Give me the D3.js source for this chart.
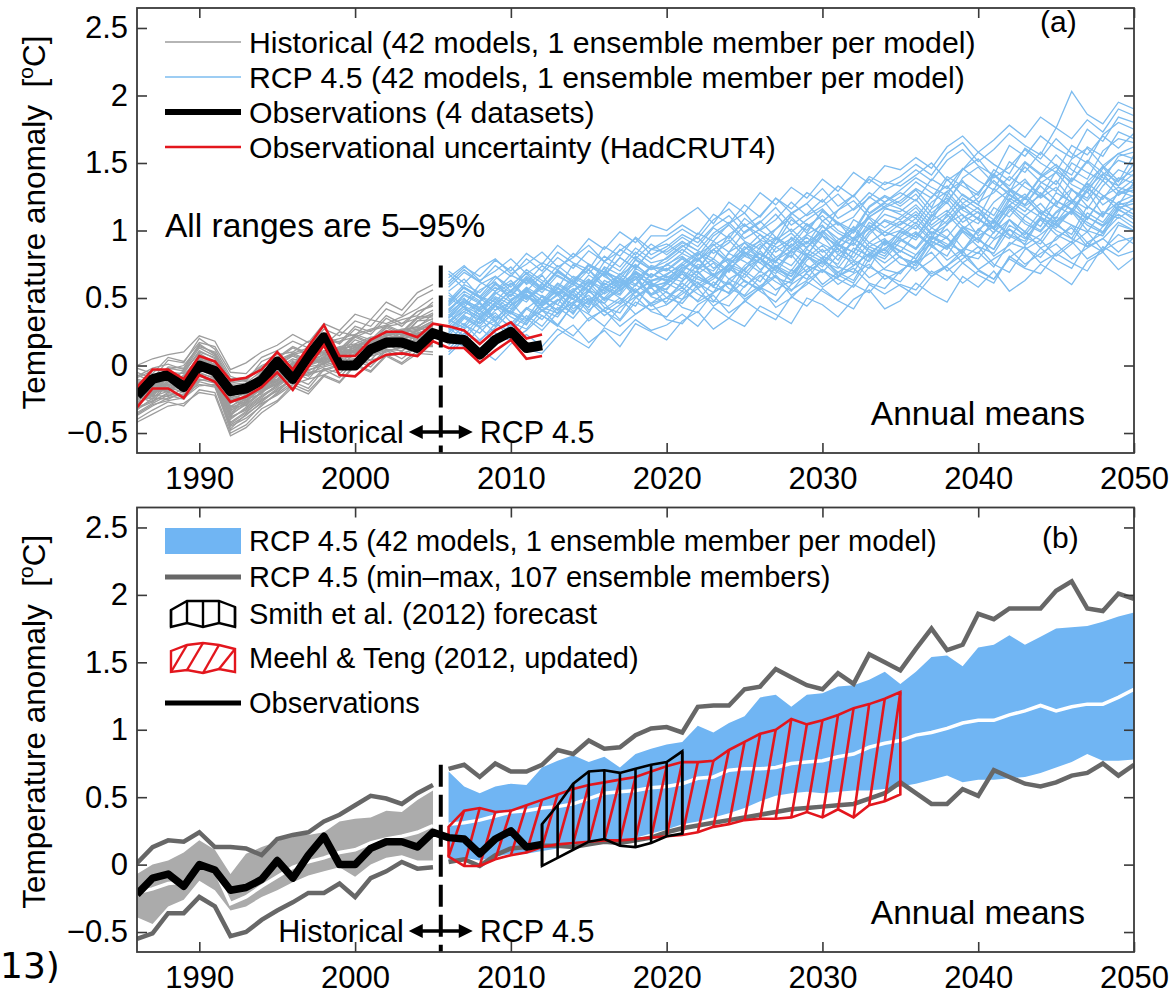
<!DOCTYPE html>
<html>
<head>
<meta charset="utf-8">
<script src="https://cdn.jsdelivr.net/npm/d3@7"></script>
<style>
  html, body { margin: 0; padding: 0; background: #fff; }
  svg { display: block; }
  text { font-family: "Liberation Sans", Arial, Helvetica, sans-serif; fill: #000; }
</style>
</head>
<body>
<svg id="chart" width="1175" height="995"></svg>
<script>
// ---------------------------------------------------------------------------
// Data (temperature anomalies in °C, relative to 1986–2005)
// ---------------------------------------------------------------------------
const histYears = d3.range(1986, 2006);      // 1986 … 2005
const rcpYears  = d3.range(2006, 2051);      // 2006 … 2050
const obsYears  = d3.range(1986, 2013);      // 1986 … 2012
const smithYears = d3.range(2012, 2022);     // 2012 … 2021
const meehlYears = d3.range(2006, 2036);     // 2006 … 2035

const yTickValues = [-0.5, 0, 0.5, 1, 1.5, 2, 2.5];
const xTickValues = [1990, 2000, 2010, 2020, 2030, 2040, 2050];

// Observed global mean temperature anomaly
const observations = [-0.22,-0.10,-0.07,-0.16,0.00,-0.04,-0.19,-0.17,-0.11,0.03,
  -0.10,0.07,0.21,0.00,0.00,0.12,0.17,0.17,0.13,0.24,0.20,0.19,0.08,0.19,0.25,0.13,0.15];
// HadCRUT4 5–95% uncertainty range
const obsUpper = [-0.16,-0.03,-0.03,-0.10,0.07,0.03,-0.11,-0.09,-0.03,0.10,
  -0.03,0.14,0.30,0.07,0.07,0.19,0.25,0.25,0.21,0.31,0.29,0.26,0.16,0.26,0.32,0.20,0.23];
const obsLower = [-0.31,-0.17,-0.17,-0.24,-0.07,-0.12,-0.27,-0.23,-0.16,-0.05,
  -0.18,-0.01,0.15,-0.07,-0.08,0.02,0.08,0.09,0.07,0.18,0.13,0.13,0.02,0.11,0.19,0.05,0.07];

// Historical runs, 42 models, 1986–2005 (hundredths of °C)
const histRuns = [
  [-25,-15,-10,-18,2,-1,-33,-28,-12,-5,1,6,2,12,15,13,22,25,20,31],
  [-18,-22,-9,-8,5,-7,-25,-30,-20,-11,3,-1,9,6,14,19,16,26,28,25],
  [-30,-20,-17,-10,-5,-2,-38,-20,-18,-13,-6,5,1,8,7,18,21,17,27,33],
  [-12,-16,-20,-9,8,0,-22,-26,-10,-4,-5,8,10,5,16,12,24,23,19,28],
  [-35,-28,-22,-25,-12,-15,-45,-39,-30,-20,-9,-14,-2,-6,5,1,12,8,14,15],
  [-8,-2,1,-3,15,9,-12,-10,-2,6,14,9,22,17,29,25,37,31,40,45],
  [-22,-25,-12,-16,-3,-8,-31,-22,-19,-6,-4,0,7,11,9,17,20,19,26,30],
  [-28,-14,-18,-11,3,-10,-35,-27,-14,-12,0,4,3,10,13,14,18,24,22,27],
  [-15,-19,-6,-14,-2,4,-24,-21,-17,-8,-1,3,8,7,12,20,17,22,25,32],
  [-40,-33,-27,-30,-18,-20,-50,-44,-32,-26,-14,-19,-7,-12,1,-4,8,2,11,10],
  [-19,-11,-15,-7,6,-3,-27,-19,-13,-10,2,0,6,13,10,15,23,20,23,26],
  [-24,-21,-11,-15,1,-6,-30,-25,-21,-7,-3,6,1,11,7,19,13,26,21,30],
  [-5,-10,4,2,20,12,-8,-12,3,8,10,18,15,25,22,34,31,36,42,50],
  [-27,-23,-19,-16,-6,-9,-40,-31,-22,-15,-5,-10,3,-1,9,4,16,10,22,18],
  [-20,-14,-16,-10,3,-6,-26,-24,-15,-11,-1,3,4,10,10,17,18,22,23,29],
  [-33,-24,-25,-19,-8,-12,-42,-34,-26,-17,-11,-6,-1,2,4,9,12,11,17,19],
  [-10,-13,-5,-6,11,5,-16,-17,-5,1,9,4,17,12,23,19,30,25,36,37],
  [-23,-18,-17,-14,-1,-2,-32,-26,-16,-10,-3,1,6,8,12,15,20,20,24,28],
  [-16,-8,-12,-4,9,2,-20,-15,-8,0,7,2,15,10,21,16,28,22,33,34],
  [-37,-30,-24,-21,-14,-16,-47,-36,-28,-22,-14,-10,-7,-2,1,4,7,9,13,16],
  [-13,-20,-8,-11,4,1,-23,-18,-11,-5,4,6,10,14,16,21,22,26,29,35],
  [-26,-17,-14,-17,-4,-4,-36,-29,-19,-14,-3,-8,6,1,12,7,18,13,24,24],
  [-21,-12,-7,-12,7,-5,-21,-20,-9,-3,1,7,11,13,14,20,24,27,28,38],
  [-31,-26,-21,-23,-10,-13,-44,-37,-27,-18,-9,-7,-3,1,3,7,10,14,14,18],
  [-2,-6,6,3,17,14,-5,-6,6,11,18,13,27,22,33,29,42,37,50,56],
  [-17,-23,-11,-9,2,-8,-28,-22,-17,-8,0,5,4,11,15,16,21,21,26,31],
  [-29,-19,-16,-20,-7,-11,-39,-32,-23,-16,-7,-4,2,5,7,10,13,17,19,21],
  [-14,-9,-10,-5,10,6,-18,-14,-7,-1,8,3,16,11,22,17,29,24,35,36],
  [-23,-27,-13,-13,-2,-3,-34,-24,-18,-12,-4,1,5,9,11,15,17,22,24,27],
  [-11,-15,-2,-4,13,7,-14,-13,-4,3,8,11,16,18,21,26,29,31,35,41],
  [-36,-29,-26,-24,-15,-14,-48,-41,-29,-21,-12,-17,-3,-9,4,-1,11,5,14,14],
  [-20,-16,-9,-13,5,-1,-25,-23,-14,-7,0,3,8,10,13,18,20,24,26,31],
  [-25,-20,-18,-15,-3,-7,-37,-28,-20,-13,-5,-1,1,6,8,13,16,17,22,25],
  [-9,-4,-3,0,14,10,-10,-9,0,5,13,8,21,16,27,23,35,29,40,44],
  [-32,-27,-20,-22,-11,-10,-43,-35,-25,-19,-10,-5,-4,0,5,8,11,13,15,20],
  [-18,-13,-15,-8,4,3,-22,-19,-12,-6,2,6,9,12,15,19,22,25,27,33],
  [-42,-36,-30,-28,-20,-22,-52,-46,-35,-27,-16,-21,-8,-13,0,-5,7,1,9,8],
  [-7,-12,-1,-2,16,8,-13,-11,-1,4,9,13,17,20,23,27,30,34,37,47],
  [-24,-15,-19,-12,0,-8,-31,-27,-17,-11,-4,0,4,7,10,14,18,19,23,26],
  [-15,-21,-8,-10,7,0,-19,-16,-10,-2,5,0,14,8,19,15,26,20,33,39],
  [-28,-22,-23,-17,-5,-10,-38,-33,-24,-14,-8,-3,0,4,5,10,13,16,18,23],
  [0,5,8,10,22,18,-3,2,10,15,23,17,31,26,38,34,47,41,54,60]
];

// RCP4.5 runs, 42 models, 2006–2050 (hundredths of °C)
const rcpRuns = [
  [10,21,6,15,24,12,9,22,30,17,26,14,31,25,19, 33,40,27,35,29,44,38,31,50,45,36,49,56,42,48, 61,53,47,66,58,70,55,63,75,68,60,77,84,71,80],
  [20,14,28,33,19,26,37,30,22,35,41,29,38,46,34, 31,45,52,39,47,58,43,50,62,55,48,60,54,67,59, 52,66,73,61,70,64,79,72,68,83,76,70,88,81,85],
  [15,27,35,24,18,33,41,30,45,38,29,43,51,40,36, 49,57,44,52,63,55,47,60,68,58,66,72,61,57,70, 78,66,74,85,71,64,80,88,76,83,92,79,86,97,90],
  [25,31,19,28,40,35,26,39,47,33,42,50,38,46,55, 43,39,54,61,49,57,66,52,60,71,64,58,73,67,62, 76,84,70,79,88,75,69,86,93,81,90,99,85,92,95],
  [30,22,36,44,32,27,41,49,38,55,46,34,50,58,45, 53,62,48,44,59,67,56,63,74,60,69,77,65,72,81, 70,78,89,76,84,73,91,87,80,95,102,88,94,106,100],
  [22,35,28,18,31,43,37,29,46,52,40,48,57,44,50, 61,53,47,64,58,70,62,55,69,77,66,74,83,71,68, 82,90,78,86,95,81,89,99,87,93,104,91,98,110,102],
  [35,44,31,39,27,42,51,38,47,56,43,39,55,62,50, 46,60,68,57,52,66,74,63,71,80,67,61,79,86,75, 72,88,95,82,79,93,101,89,97,106,94,88,103,112,105],
  [28,19,33,45,36,30,48,41,53,39,58,50,44,61,54, 49,66,59,72,63,56,74,68,81,70,65,84,77,91,80, 74,92,86,99,88,83,101,94,108,97,91,110,103,116,108],
  [40,52,46,33,48,57,43,39,55,62,49,58,66,51,47, 63,70,58,54,72,79,65,61,78,86,73,69,88,94,80, 76,93,101,87,83,99,108,95,90,106,114,100,96,115,110],
  [18,30,24,37,29,42,34,48,55,41,50,46,60,52,57, 68,61,54,72,65,79,70,63,81,75,90,78,72,92,84, 98,88,81,100,93,107,96,90,109,102,115,104,98,118,112],
  [33,40,47,35,44,53,41,36,51,59,48,56,64,52,60, 70,58,66,75,62,57,73,82,69,77,87,74,83,92,85, 79,95,88,102,93,86,104,97,110,100,94,113,106,121,115],
  [45,58,50,41,53,47,60,55,49,63,57,52,66,61,56, 70,64,59,74,68,80,71,66,83,77,72,87,81,93,88, 82,96,90,85,101,94,108,99,93,110,104,99,114,109,117],
  [26,37,31,44,39,33,47,55,42,50,46,59,66,53,61, 68,57,64,75,70,62,78,85,74,69,82,91,80,87,93, 86,99,94,83,101,108,97,92,110,104,115,106,99,117,120],
  [38,30,43,51,45,57,48,41,56,64,53,60,69,58,62, 71,79,66,60,74,83,77,90,81,73,88,95,84,79,92, 99,89,105,112,96,103,118,107,100,114,123,110,104,119,122],
  [31,42,36,29,45,52,40,48,57,46,54,63,51,59,61, 55,68,76,64,71,85,73,66,80,89,78,94,86,81,95, 104,92,87,101,110,98,116,105,99,113,121,108,126,115,124],
  [50,43,56,62,48,55,67,52,59,71,57,64,54,68,62, 73,69,58,76,84,71,80,74,88,96,82,77,91,99,94, 87,102,95,109,117,101,94,111,120,107,115,129,112,121,126],
  [24,36,29,41,47,34,52,45,39,56,50,62,54,68,63, 75,66,59,72,81,90,77,70,86,79,93,101,88,83,97, 106,94,112,100,91,108,119,111,103,122,116,109,125,132,128],
  [36,47,41,32,49,56,44,53,61,48,57,66,55,63,64, 58,71,79,70,84,76,68,85,92,81,75,94,102,89,99, 93,107,115,103,98,117,110,124,113,106,121,133,119,127,130],
  [42,50,37,46,55,49,61,53,45,60,68,56,64,73,65, 72,80,67,74,88,79,71,86,95,84,90,103,91,85,100, 109,97,104,118,108,101,114,125,112,120,131,118,111,128,132],
  [29,40,34,47,38,52,45,58,49,43,61,55,68,59,66, 62,75,70,83,77,69,87,94,82,96,89,84,99,107,102, 95,110,121,106,114,102,119,127,115,109,130,122,137,126,134],
  [55,64,51,47,60,68,57,53,66,61,72,58,69,63,67, 76,84,72,79,70,88,95,83,91,99,86,80,97,108,104, 112,98,107,120,113,105,124,117,110,128,121,135,126,119,136],
  [34,28,41,49,39,55,46,60,52,45,63,57,70,62,68, 74,83,77,69,86,92,80,88,97,90,84,101,109,96,105, 114,102,110,124,116,108,127,119,133,122,115,131,142,129,138],
  [47,58,51,44,56,63,54,67,60,55,70,64,59,73,70, 79,71,86,93,81,76,90,98,87,103,94,89,106,99,107, 101,116,124,111,105,121,130,118,126,137,123,116,133,145,140],
  [27,38,46,33,41,52,44,57,49,62,55,68,60,74,71, 80,73,66,84,91,79,95,87,81,99,106,93,101,112,108, 117,104,113,127,119,111,129,138,124,132,120,136,147,133,142],
  [39,48,43,54,47,58,51,45,62,56,69,61,74,66,72, 64,78,86,75,82,93,88,80,97,104,91,99,110,102,110, 119,107,126,115,109,131,122,136,127,118,139,132,148,137,145],
  [60,71,62,55,67,61,74,66,60,75,69,64,78,71,74, 83,77,89,96,84,79,93,101,90,107,98,92,110,117,112, 105,121,129,116,124,137,126,119,135,143,130,124,141,152,148],
  [32,44,38,50,42,56,48,61,54,67,59,53,72,65,75, 69,82,90,78,86,97,84,92,105,96,89,108,101,116,114, 123,110,129,137,121,128,140,132,125,144,136,151,139,133,150],
  [44,55,48,60,52,65,57,71,62,56,73,67,81,72,77, 86,78,92,84,99,107,95,88,103,111,100,94,112,120,116, 109,125,133,120,128,141,130,123,139,147,134,128,146,157,153],
  [52,45,60,66,55,69,61,74,65,59,77,70,84,76,79, 88,95,83,91,104,97,90,108,100,114,105,98,117,125,118, 127,113,122,136,128,142,131,124,140,149,137,152,143,136,156],
  [37,49,42,55,63,50,58,70,62,75,66,59,79,71,80, 89,81,96,104,92,86,101,110,98,115,106,100,118,126,120, 130,117,138,126,119,141,133,147,136,129,150,143,137,155,158],
  [65,74,63,70,79,68,76,71,83,75,69,86,79,90,82, 91,85,98,106,94,101,112,99,108,116,104,110,125,117,122, 131,124,140,133,126,145,137,151,142,134,153,161,148,157,162],
  [41,53,47,58,51,64,56,70,61,74,67,80,72,86,84, 92,85,79,97,105,93,101,113,104,97,115,122,110,118,125, 136,128,120,139,147,135,128,150,141,156,145,138,159,168,165],
  [48,60,54,66,58,71,63,57,75,68,81,73,87,79,86, 95,88,102,94,109,100,93,112,120,107,115,126,113,121,128, 122,138,131,146,137,130,151,143,158,148,141,162,155,173,168],
  [70,61,72,79,68,75,84,73,80,89,77,85,94,82,88, 97,91,103,111,98,106,117,104,112,123,109,116,128,121,130, 139,132,126,145,153,139,147,160,150,143,163,156,170,161,172],
  [35,47,40,53,61,49,57,69,62,75,66,80,72,86,90, 83,98,92,105,113,100,108,121,111,118,127,115,124,136,133, 141,150,137,145,158,149,142,161,153,168,157,150,171,180,175],
  [58,69,62,74,66,79,70,84,76,71,88,81,95,86,93, 101,94,108,116,103,111,124,113,120,131,118,126,138,130,136, 145,137,152,160,148,141,163,155,170,161,154,175,166,184,180],
  [46,58,51,64,73,60,68,80,72,85,77,90,82,96,96, 104,97,112,105,119,110,124,116,128,121,133,125,140,134,140, 149,141,157,165,151,160,172,163,156,176,168,182,173,190,185],
  [62,73,66,78,70,83,75,89,80,94,86,99,91,104,100, 109,117,105,121,113,128,119,132,124,138,129,143,135,148,145, 154,146,162,170,158,167,178,169,184,176,203,186,179,195,190],
  [54,43,35,47,39,31,44,52,40,48,37,45,55,46,50, 58,47,54,62,51,59,67,56,63,71,60,68,75,64,70, 78,68,74,82,71,79,86,75,83,90,79,87,94,84,95],
  [12,24,18,31,25,37,29,43,35,49,40,33,47,41,45, 55,48,62,53,68,58,52,71,64,79,69,63,83,76,85, 79,96,88,103,93,86,108,99,114,104,97,118,110,129,125],
  [68,57,50,61,54,66,58,52,64,71,60,67,75,65,75, 81,72,86,77,91,82,76,95,87,100,90,84,104,96,100, 95,112,105,118,108,102,122,114,128,118,112,131,123,139,135],
  [8,19,12,4,16,23,14,27,20,13,28,22,34,26,30, 38,29,43,35,48,40,34,51,44,57,48,42,60,53,60, 56,70,63,76,67,61,81,73,87,78,72,91,84,104,100]
];

// Panel (b): historical 5–95% range, median and min–max (1986–2005)
const histBandUpper = [-0.07,0.00,0.03,0.09,0.18,0.11,-0.07,0.08,0.13,0.17,0.23,0.22,0.24,0.32,0.34,0.35,0.40,0.39,0.48,0.55];
const histBandLower = [-0.39,-0.44,-0.31,-0.26,-0.12,-0.19,-0.34,-0.31,-0.24,-0.19,-0.13,-0.08,-0.05,-0.02,-0.09,0.00,0.05,0.07,0.03,0.03];
const histMedian    = [-0.21,-0.18,-0.14,-0.13,0.00,-0.04,-0.29,-0.24,-0.16,-0.09,-0.02,0.02,0.05,0.09,0.11,0.16,0.19,0.21,0.24,0.29];
const histMax = [0.01,0.13,0.18,0.17,0.24,0.13,0.13,0.12,0.07,0.19,0.22,0.24,0.32,0.37,0.44,0.51,0.49,0.45,0.53,0.59];
const histMin = [-0.55,-0.51,-0.36,-0.36,-0.24,-0.31,-0.53,-0.50,-0.41,-0.34,-0.28,-0.21,-0.21,-0.14,-0.24,-0.10,-0.05,0.02,-0.03,-0.02];

// Panel (b): RCP4.5 5–95% range, median and min–max (2006–2050)
const rcpBandUpper = [0.69,0.58,0.53,0.58,0.60,0.59,0.72,0.77,0.81,0.76,0.80,0.72,0.82,0.86,0.89,
  0.91,1.03,0.98,1.05,1.10,1.24,1.26,1.17,1.26,1.27,1.32,1.33,1.37,1.43,1.34,
  1.43,1.54,1.55,1.47,1.61,1.63,1.70,1.63,1.69,1.75,1.76,1.77,1.80,1.84,1.87];
const rcpBandLower = [0.03,0.05,0.03,0.06,0.08,0.08,0.10,0.12,0.14,0.15,0.17,0.18,0.20,0.23,0.26,
  0.30,0.32,0.35,0.38,0.42,0.47,0.51,0.53,0.54,0.53,0.54,0.55,0.55,0.56,0.58,
  0.60,0.63,0.66,0.61,0.63,0.63,0.64,0.65,0.68,0.72,0.76,0.82,0.77,0.77,0.78];
const rcpMedian = [0.30,0.31,0.33,0.36,0.39,0.40,0.42,0.43,0.45,0.49,0.53,0.54,0.55,0.57,0.58,
  0.60,0.64,0.65,0.70,0.71,0.71,0.72,0.75,0.76,0.77,0.80,0.82,0.87,0.90,0.92,
  0.96,0.98,1.01,1.05,1.07,1.07,1.11,1.14,1.18,1.14,1.17,1.19,1.19,1.24,1.30];
const rcpMax = [0.71,0.74,0.65,0.75,0.69,0.69,0.74,0.85,0.82,0.92,0.86,0.87,0.96,1.01,1.02,
  0.98,1.17,1.18,1.18,1.30,1.32,1.45,1.39,1.33,1.30,1.42,1.34,1.56,1.50,1.44,
  1.60,1.75,1.59,1.63,1.86,1.82,1.90,1.90,1.90,2.03,2.10,1.90,1.88,2.01,1.97];
const rcpMin = [0.02,0.04,-0.01,0.07,0.12,0.13,0.14,0.14,0.13,0.15,0.17,0.16,0.18,0.20,0.24,
  0.27,0.29,0.31,0.33,0.35,0.37,0.39,0.41,0.42,0.43,0.44,0.45,0.49,0.53,0.61,
  0.53,0.45,0.45,0.56,0.51,0.70,0.65,0.60,0.58,0.61,0.66,0.68,0.75,0.66,0.74];

// Smith et al. (2012) forecast range, 2012–2021
const smithUpper = [0.30,0.44,0.60,0.69,0.70,0.68,0.71,0.74,0.76,0.84];
const smithLower = [-0.01,0.05,0.11,0.17,0.19,0.14,0.13,0.16,0.21,0.23];

// Meehl & Teng (2012, updated) range, 2006–2035
const meehlUpper = [0.28,0.40,0.42,0.39,0.40,0.44,0.48,0.52,0.56,0.59,0.61,0.63,0.65,0.69,0.73,
  0.76,0.76,0.77,0.85,0.91,0.97,1.00,1.08,1.04,1.07,1.11,1.16,1.19,1.23,1.28];
const meehlLower = [0.06,-0.01,-0.01,0.04,0.07,0.09,0.13,0.15,0.16,0.17,0.18,0.18,0.19,0.20,0.21,
  0.22,0.24,0.28,0.30,0.33,0.34,0.34,0.35,0.39,0.35,0.41,0.35,0.44,0.47,0.52];

const legendA = [
  "Historical (42 models, 1 ensemble member per model)",
  "RCP 4.5 (42 models, 1 ensemble member per model)",
  "Observations (4 datasets)",
  "Observational uncertainty (HadCRUT4)"
];
const legendB = [
  "RCP 4.5 (42 models, 1 ensemble member per model)",
  "RCP 4.5 (min\u2013max, 107 ensemble members)",
  "Smith et al. (2012) forecast",
  "Meehl & Teng (2012, updated)",
  "Observations"
];

// ---------------------------------------------------------------------------
// Styling
// ---------------------------------------------------------------------------
const C = {
  axis: "#3a3a3a",
  histLine: "#9d9d9d",
  rcpLine: "#7dbcef",
  red: "#e3161d",
  blueFill: "#70b5f3",
  grayFill: "#ababab",
  minmax: "#676767"
};
const FONT_TICK = 31;

const svg = d3.select("#chart");
const x = d3.scaleLinear().domain([1986, 2050]).range([137, 1134]);
const yDomain = [-0.648, 2.648];
const panels = [
  { name: "a", top: 8, bottom: 453 },
  { name: "b", top: 507.5, bottom: 952 }
];
panels.forEach(p => { p.y = d3.scaleLinear().domain(yDomain).range([p.bottom, p.top]); });

const fmtY = d => d < 0 ? "\u2212" + Math.abs(d) : String(d);

function lineGen(years, y, scale = 1) {
  return d3.line().x((d, i) => x(years[i])).y(d => y(d * scale));
}
function areaGen(years, lower, y) {
  return d3.area().x((d, i) => x(years[i])).y0((d, i) => y(lower[i])).y1(d => y(d));
}

// Clip paths for plot areas
const defs = svg.append("defs");
panels.forEach(p => {
  defs.append("clipPath").attr("id", "clip-" + p.name)
    .append("rect").attr("x", x.range()[0]).attr("y", p.top)
    .attr("width", x.range()[1] - x.range()[0]).attr("height", p.bottom - p.top);
});

function drawAxes(p) {
  const g = svg.append("g");
  const style = sel => {
    sel.select(".domain").remove();
    sel.selectAll(".tick line").attr("stroke", C.axis).attr("stroke-width", 1.6);
    sel.selectAll(".tick text").attr("font-size", FONT_TICK).attr("fill", "#000")
      .style("font-family", "'Liberation Sans', Arial, sans-serif");
  };
  g.append("g").attr("transform", `translate(${x.range()[0]},0)`)
    .call(d3.axisLeft(p.y).tickValues(yTickValues).tickSize(-10).tickPadding(9).tickFormat(fmtY))
    .call(style);
  g.append("g").attr("transform", `translate(${x.range()[1]},0)`)
    .call(d3.axisRight(p.y).tickValues(yTickValues).tickSize(-10).tickFormat(""))
    .call(style);
  g.append("g").attr("transform", `translate(0,${p.top})`)
    .call(d3.axisTop(x).tickValues(xTickValues).tickSize(-10).tickFormat(""))
    .call(style);
  g.append("g").attr("transform", `translate(0,${p.bottom})`)
    .call(d3.axisBottom(x).tickValues(xTickValues).tickSize(-10).tickPadding(14).tickFormat(d3.format("d")))
    .call(style);
  g.append("rect").attr("x", x.range()[0]).attr("y", p.top)
    .attr("width", x.range()[1] - x.range()[0]).attr("height", p.bottom - p.top)
    .attr("fill", "none").attr("stroke", C.axis).attr("stroke-width", 1.8);

  // y-axis title
  const cy = (p.top + p.bottom) / 2 - 8;
  const t = svg.append("text").attr("transform", `translate(45,${cy}) rotate(-90)`)
    .attr("text-anchor", "middle").attr("font-size", 31.5);
  t.append("tspan").text("Temperature anomaly\u00a0\u00a0[");
  t.append("tspan").attr("font-size", 21).attr("dy", -12).text("o");
  t.append("tspan").attr("dy", 12).text("C]");
}

function drawDivider(p) {
  const g = svg.append("g");
  g.append("line")
    .attr("x1", x(2005.5)).attr("x2", x(2005.5))
    .attr("y1", p.y(0.74)).attr("y2", p.bottom)
    .attr("stroke", "#000").attr("stroke-width", 4).attr("stroke-dasharray", "22,8");
  // "Historical <-> RCP 4.5"
  const base = p.bottom - 10, ay = base - 11, cx = x(2005.5);
  g.append("text").attr("x", cx - 37).attr("y", base).attr("text-anchor", "end")
    .attr("font-size", 30.5).text("Historical");
  g.append("text").attr("x", cx + 39).attr("y", base).attr("text-anchor", "start")
    .attr("font-size", 30.5).text("RCP 4.5");
  g.append("line").attr("x1", cx - 22).attr("x2", cx + 22).attr("y1", ay).attr("y2", ay)
    .attr("stroke", "#000").attr("stroke-width", 3.5);
  [-1, 1].forEach(s => {
    const tip = cx + s * 32;
    g.append("path")
      .attr("d", `M${tip},${ay} L${tip - s * 14},${ay - 7} L${tip - s * 14},${ay + 7} Z`)
      .attr("fill", "#000");
  });
  g.append("text").attr("x", 1085).attr("y", p.bottom - 28).attr("text-anchor", "end")
    .attr("font-size", 33.5).text("Annual means");
}

// ---------------------------------------------------------------------------
// Panel (a)
// ---------------------------------------------------------------------------
(function () {
  const p = panels[0], y = p.y;
  const plot = svg.append("g").attr("clip-path", "url(#clip-a)");
  plot.selectAll("path.hist").data(histRuns).join("path")
    .attr("d", lineGen(histYears, y, 0.01))
    .attr("fill", "none").attr("stroke", C.histLine).attr("stroke-width", 1.3);
  plot.selectAll("path.rcp").data(rcpRuns).join("path")
    .attr("d", lineGen(rcpYears, y, 0.01))
    .attr("fill", "none").attr("stroke", C.rcpLine).attr("stroke-width", 1.3);
  plot.append("path").attr("d", lineGen(obsYears, y)(observations))
    .attr("fill", "none").attr("stroke", "#000").attr("stroke-width", 10)
    .attr("stroke-linejoin", "round");
  [obsUpper, obsLower].forEach(arr => {
    plot.append("path").attr("d", lineGen(obsYears, y)(arr))
      .attr("fill", "none").attr("stroke", C.red).attr("stroke-width", 2.6);
  });

  drawDivider(p);
  drawAxes(p);

  // legend
  const lg = svg.append("g");
  const rows = [42, 77, 112, 147];
  const styles = [
    { stroke: C.histLine, w: 1.5 },
    { stroke: C.rcpLine, w: 1.5 },
    { stroke: "#000", w: 6 },
    { stroke: C.red, w: 2.6 }
  ];
  legendA.forEach((label, i) => {
    lg.append("line").attr("x1", 165).attr("x2", 241).attr("y1", rows[i]).attr("y2", rows[i])
      .attr("stroke", styles[i].stroke).attr("stroke-width", styles[i].w);
    lg.append("text").attr("x", 249).attr("y", rows[i]).attr("dy", "0.36em")
      .attr("font-size", 30.2).text(label);
  });
  svg.append("text").attr("x", 165).attr("y", 237).attr("font-size", 33.5)
    .text("All ranges are 5\u201395%");
  svg.append("text").attr("x", 1040).attr("y", 32).attr("font-size", 30).text("(a)");
})();

// ---------------------------------------------------------------------------
// Panel (b)
// ---------------------------------------------------------------------------
(function () {
  const p = panels[1], y = p.y;
  const plot = svg.append("g").attr("clip-path", "url(#clip-b)");

  plot.append("path").attr("d", areaGen(histYears, histBandLower, y)(histBandUpper))
    .attr("fill", C.grayFill);
  plot.append("path").attr("d", areaGen(rcpYears, rcpBandLower, y)(rcpBandUpper))
    .attr("fill", C.blueFill);
  [[histYears, histMedian], [rcpYears, rcpMedian]].forEach(([yrs, arr]) => {
    plot.append("path").attr("d", lineGen(yrs, y)(arr))
      .attr("fill", "none").attr("stroke", "#fff").attr("stroke-width", 3.5);
  });
  [[histYears, histMax], [histYears, histMin], [rcpYears, rcpMax], [rcpYears, rcpMin]]
    .forEach(([yrs, arr]) => {
      plot.append("path").attr("d", lineGen(yrs, y)(arr))
        .attr("fill", "none").attr("stroke", C.minmax).attr("stroke-width", 4.5);
    });

  // Meehl & Teng: outlined range with diagonal hatching
  const mg = plot.append("g").attr("stroke", C.red).attr("fill", "none").attr("stroke-width", 2.6);
  const mPoly = meehlUpper.map((v, i) => [x(meehlYears[i]), y(v)])
    .concat(meehlLower.map((v, i) => [x(meehlYears[i]), y(v)]).reverse());
  mg.append("path").attr("d", "M" + mPoly.join("L") + "Z");
  mg.selectAll("line").data(meehlYears.slice(0, -1)).join("line")
    .attr("x1", (d, i) => x(meehlYears[i])).attr("y1", (d, i) => y(meehlLower[i]))
    .attr("x2", (d, i) => x(meehlYears[i + 1])).attr("y2", (d, i) => y(meehlUpper[i + 1]));

  // Smith et al.: outlined range with vertical hatching
  const sg = plot.append("g").attr("stroke", "#000").attr("fill", "none").attr("stroke-width", 2.6);
  const sPoly = smithUpper.map((v, i) => [x(smithYears[i]), y(v)])
    .concat(smithLower.map((v, i) => [x(smithYears[i]), y(v)]).reverse());
  sg.append("path").attr("d", "M" + sPoly.join("L") + "Z");
  sg.selectAll("line").data(smithYears).join("line")
    .attr("x1", d => x(d)).attr("x2", d => x(d))
    .attr("y1", (d, i) => y(smithLower[i])).attr("y2", (d, i) => y(smithUpper[i]));

  plot.append("path").attr("d", lineGen(obsYears, y)(observations))
    .attr("fill", "none").attr("stroke", "#000").attr("stroke-width", 7.5)
    .attr("stroke-linejoin", "round");

  drawDivider(p);
  drawAxes(p);

  // legend
  const lg = svg.append("g");
  const rows = [541, 577, 614, 658, 703];
  lg.append("rect").attr("x", 165).attr("y", 528).attr("width", 76).attr("height", 26)
    .attr("fill", C.blueFill);
  lg.append("line").attr("x1", 165).attr("x2", 241).attr("y1", rows[1]).attr("y2", rows[1])
    .attr("stroke", C.minmax).attr("stroke-width", 5);
  // small hatched glyphs
  const gx = [171, 187, 203, 219, 235];
  const sTop = [610, 601, 601, 601, 607], sBot = [627, 623, 627, 623, 627];
  const s = lg.append("g").attr("stroke", "#000").attr("stroke-width", 2.4).attr("fill", "none");
  s.append("path").attr("d", "M" + gx.map((v, i) => [v, sTop[i]]).concat(gx.map((v, i) => [v, sBot[i]]).reverse()).join("L") + "Z");
  gx.forEach((v, i) => s.append("line").attr("x1", v).attr("x2", v).attr("y1", sTop[i]).attr("y2", sBot[i]));
  const mTop = [651, 645, 643, 645, 649], mBot = [672, 670, 673, 669, 672];
  const m = lg.append("g").attr("stroke", C.red).attr("stroke-width", 2.4).attr("fill", "none");
  m.append("path").attr("d", "M" + gx.map((v, i) => [v, mTop[i]]).concat(gx.map((v, i) => [v, mBot[i]]).reverse()).join("L") + "Z");
  gx.slice(0, -1).forEach((v, i) => m.append("line").attr("x1", v).attr("y1", mBot[i]).attr("x2", gx[i + 1]).attr("y2", mTop[i + 1]));
  lg.append("line").attr("x1", 165).attr("x2", 241).attr("y1", rows[4]).attr("y2", rows[4])
    .attr("stroke", "#000").attr("stroke-width", 5);
  legendB.forEach((label, i) => {
    lg.append("text").attr("x", 249).attr("y", rows[i]).attr("dy", "0.36em")
      .attr("font-size", 29).text(label);
  });
  svg.append("text").attr("x", 1042).attr("y", 548).attr("font-size", 30).text("(b)");
})();

// fragment of a caption at the lower left
svg.append("text").attr("x", 0).attr("y", 978)
  .style("font-family", "'DejaVu Sans', sans-serif").attr("font-size", 36).text("13)");
</script>
</body>
</html>
